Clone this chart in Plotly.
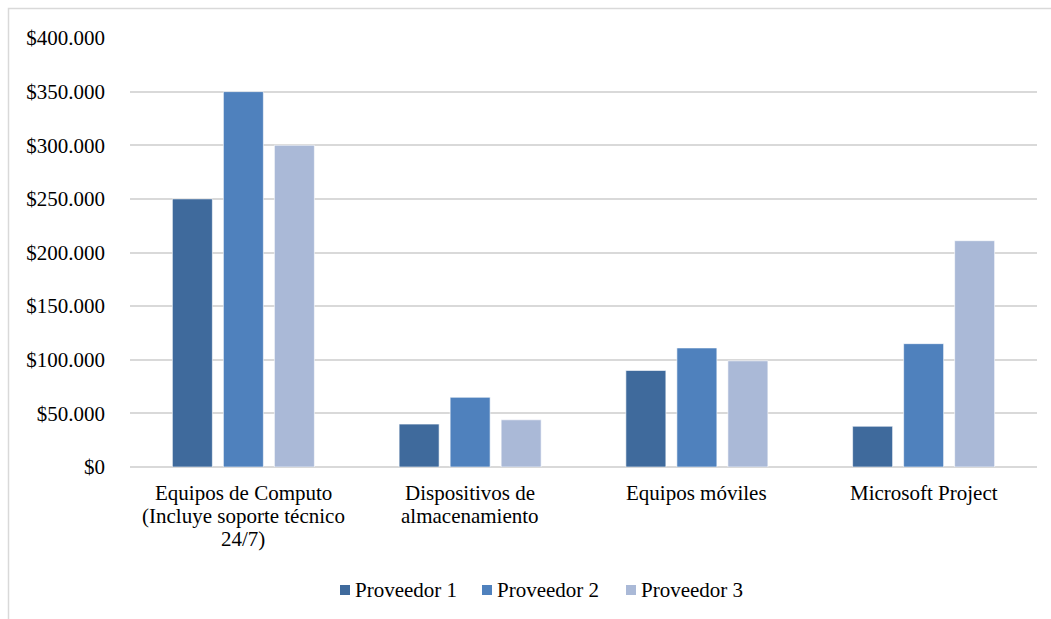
import plotly.graph_objects as go

# Categories and quoted costs per provider
categories = [
    "Equipos de Computo (Incluye soporte técnico 24/7)",
    "Dispositivos de almacenamiento",
    "Equipos móviles",
    "Microsoft Project",
]
category_lines = [
    ["Equipos de Computo", "(Incluye soporte técnico", "24/7)"],
    ["Dispositivos de", "almacenamiento"],
    ["Equipos móviles"],
    ["Microsoft Project"],
]
proveedor_1 = [250000, 40000, 90000, 38000]
proveedor_2 = [350000, 65000, 111000, 115000]
proveedor_3 = [300000, 44000, 99000, 211000]
series_names = ["Proveedor 1", "Proveedor 2", "Proveedor 3"]
series_colors = ["#3F6A9C", "#4F81BD", "#AAB9D7"]

W, H = 1051, 619
L, R, T, B = 130, 14, 38, 152
plot_w = W - L - R
plot_h = H - T - B
FONT = "Liberation Serif, Times New Roman, serif"
TEXT = dict(family=FONT, size=21, color="#000000")


def px_x(px):
    return (px - L) / plot_w


def px_y(py):
    return (H - B - py) / plot_h


fig = go.Figure()
for name, vals, col in zip(series_names, [proveedor_1, proveedor_2, proveedor_3], series_colors):
    fig.add_trace(go.Bar(
        x=categories, y=vals, name=name, showlegend=False,
        marker=dict(color=col, line=dict(color="rgba(255,255,255,0.6)", width=1)),
    ))

# Category labels, one line each with tight line spacing
for cat, lines in zip(categories, category_lines):
    for i, line in enumerate(lines):
        fig.add_annotation(xref="x", yref="paper", x=cat, y=px_y(493 + 23 * i),
                           xanchor="center", yanchor="middle", showarrow=False,
                           text=line, font=TEXT)

# Outer chart frame (top and left edges)
fig.add_shape(type="path", xref="paper", yref="paper",
              path=f"M {px_x(8.5)},-1 L {px_x(8.5)},{px_y(8.5)} L 2,{px_y(8.5)}",
              line=dict(color="#D9D9D9", width=1.5))

# Legend row below the axis: square swatch followed by the series name
legend_left = [340, 482, 626]
for name, col, x0 in zip(series_names, series_colors, legend_left):
    fig.add_shape(type="rect", xref="paper", yref="paper",
                  x0=px_x(x0), x1=px_x(x0 + 10), y0=px_y(595), y1=px_y(585),
                  fillcolor=col, line=dict(width=0))
    fig.add_annotation(xref="paper", yref="paper", x=px_x(x0 + 13), y=px_y(590),
                       xanchor="left", yanchor="middle", showarrow=False,
                       text=name, font=TEXT)

fig.update_layout(
    width=W, height=H,
    margin=dict(l=L, r=R, t=T, b=B),
    paper_bgcolor="white", plot_bgcolor="white",
    separators=",.",
    barmode="group", bargap=0.325, bargroupgap=0.216,
    font=TEXT,
    showlegend=False,
    xaxis=dict(showgrid=False, showline=False, ticks="", showticklabels=False),
    yaxis=dict(range=[0, 400000], dtick=50000, tickprefix="$", tickformat=",d",
               showgrid=True, gridcolor="#D9D9D9", gridwidth=1.5,
               zeroline=True, zerolinecolor="#D9D9D9", zerolinewidth=2,
               showline=False, ticks="", ticklabelstandoff=24,
               tickfont=dict(size=21)),
)

fig.write_html("out.html")
